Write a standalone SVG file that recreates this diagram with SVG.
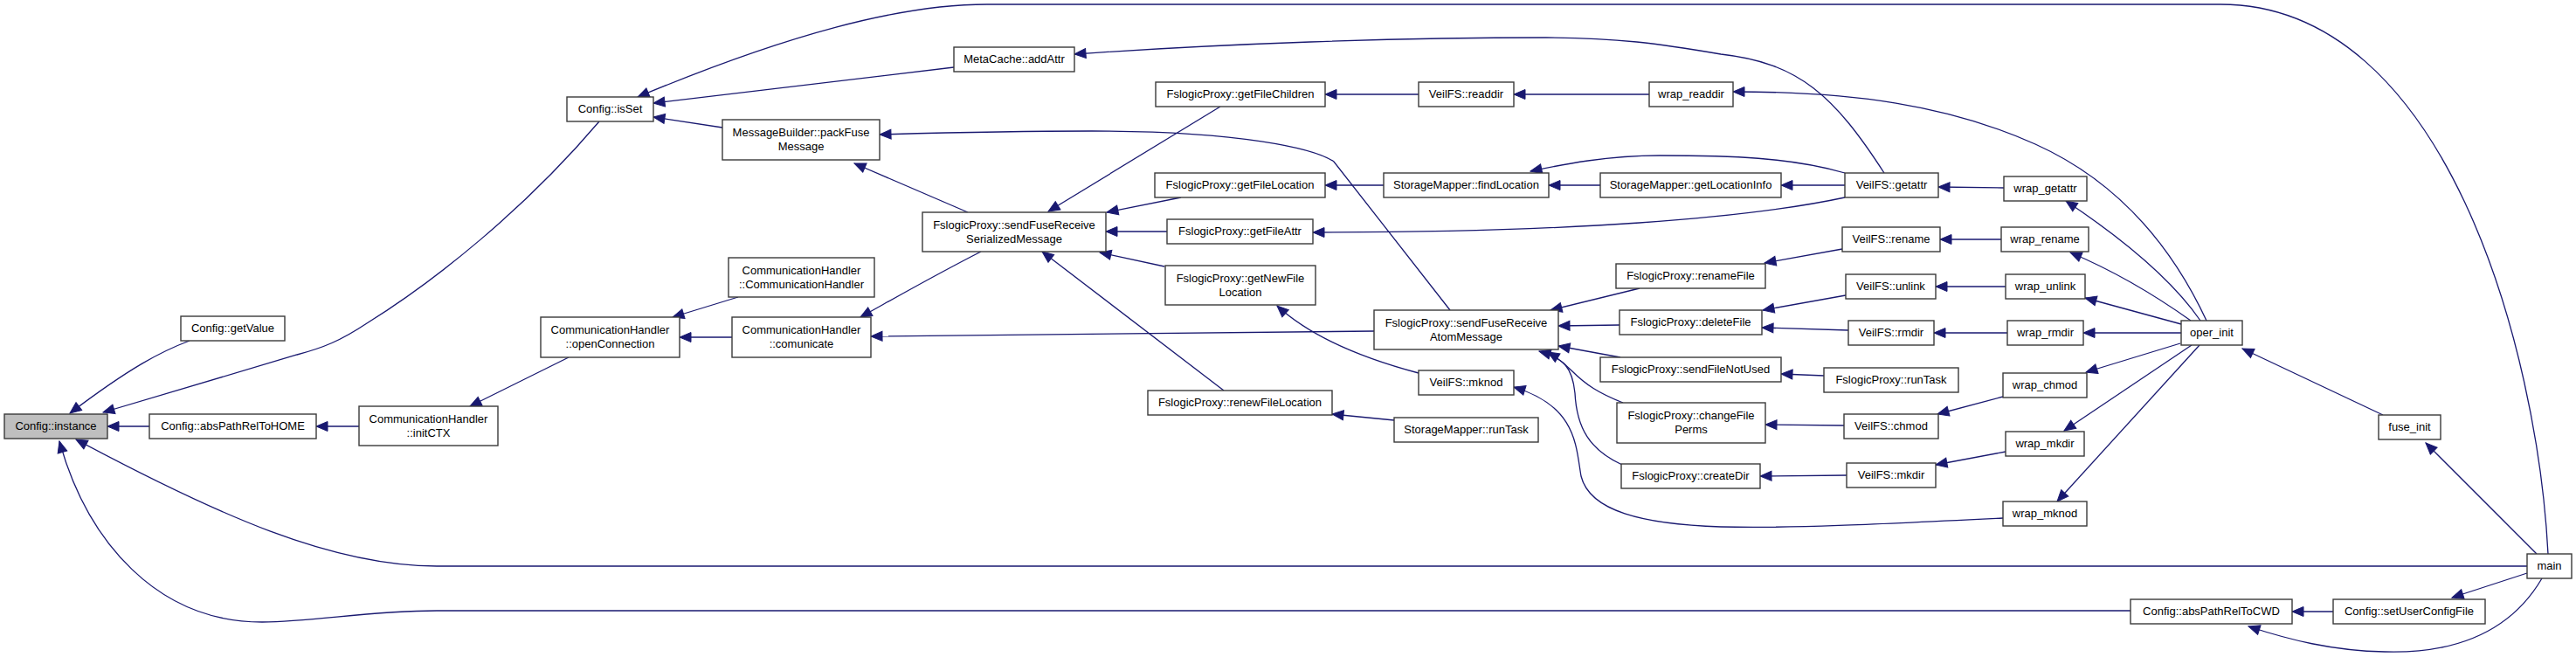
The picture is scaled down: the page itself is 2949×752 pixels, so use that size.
<svg xmlns="http://www.w3.org/2000/svg" width="2949" height="752" viewBox="0 0 2949 752">
<style>
.n rect{fill:#fff;stroke:#3a3a3a;stroke-width:1.4}
.n.root rect{fill:#bfbfbf}
.n text{font-family:"Liberation Sans",Arial,sans-serif;font-size:13px;text-anchor:middle;fill:#000}
#edges path{fill:none;stroke:#191970;stroke-width:1.3;marker-end:url(#ah)}
</style>
<defs>
<marker id="ah" markerUnits="userSpaceOnUse" markerWidth="14" markerHeight="12" refX="13" refY="6" orient="auto" overflow="visible">
<path d="M0,0.5 L13,6 L0,11.5 Z" fill="#191970" stroke="#191970" stroke-width="1"/>
</marker>
</defs>
<rect width="2949" height="752" fill="#fff"/>
<g id="edges">
<path d="M217,390 C185,402 150,420 80,473"/>
<path d="M686,139 C600,240 500,320 420,370 C390,390 370,398 340,406 L118,472"/>
<path d="M171,488 L123,488"/>
<path d="M2893,648 L500,648 C380,648 250,590 87,503"/>
<path d="M2439,699 L500,699 C420,699 360,712 300,712 C180,712 100,620 68,505"/>
<path d="M411,488 L362,488"/>
<path d="M651,409 L538,465"/>
<path d="M838,386 L778,386"/>
<path d="M845,340 L770,363"/>
<path d="M1123,288 C1070,315 1030,338 985,363"/>
<path d="M1573,379 L997,385"/>
<path d="M1092,77 L748,118"/>
<path d="M827,146 L748,134"/>
<path d="M2917,634 C2905,400 2800,5 2542,5 L1130,5 C1030,5 900,40 730,111"/>
<path d="M1660,355 L1527,185 C1505,170 1420,150 1250,150 C1150,150 1080,152 1007,154"/>
<path d="M1108,243 L978,187"/>
<path d="M1397,122 L1200,242"/>
<path d="M1352,226 L1267,243"/>
<path d="M1336,265 L1266,265"/>
<path d="M1333,305 L1259,289"/>
<path d="M1401,447 L1193,288"/>
<path d="M1624,108 L1517,108"/>
<path d="M1888,108 L1733,108"/>
<path d="M2526,367 C2490,290 2430,210 2330,165 C2230,120 2120,105 1984,105"/>
<path d="M1584,212 L1517,212"/>
<path d="M1832,212 L1773,212"/>
<path d="M2112,198 C2050,180 1980,178 1900,178 C1840,178 1790,188 1752,196"/>
<path d="M2112,212 L2039,212"/>
<path d="M2112,226 C2000,250 1800,266 1503,266"/>
<path d="M2294,215 L2219,214"/>
<path d="M2519,367 C2490,325 2440,280 2365,230"/>
<path d="M2109,285 L2020,301"/>
<path d="M2291,274 L2221,274"/>
<path d="M2508,367 C2470,340 2420,310 2370,289"/>
<path d="M2113,338 L2018,355"/>
<path d="M2296,328 L2216,328"/>
<path d="M2497,371 L2387,341"/>
<path d="M2116,378 L2017,375"/>
<path d="M2298,381 L2214,381"/>
<path d="M2497,381 L2385,381"/>
<path d="M2496,393 L2388,426"/>
<path d="M2509,395 L2363,493"/>
<path d="M2518,395 L2355,574"/>
<path d="M2293,454 L2218,474"/>
<path d="M2296,517 L2216,532"/>
<path d="M2111,487 L2021,486"/>
<path d="M2114,544 L2015,545"/>
<path d="M2088,430 L2039,428"/>
<path d="M1877,330 L1775,355"/>
<path d="M1854,372 L1784,373"/>
<path d="M1855,409 L1784,396"/>
<path d="M1858,461 C1830,450 1815,440 1800,425 C1790,415 1782,409 1772,403"/>
<path d="M1857,532 C1820,515 1805,490 1803,450 C1800,420 1790,410 1762,402"/>
<path d="M2293,593 C2150,600 2050,605 1970,603 C1880,600 1820,585 1810,545 C1804,510 1805,465 1733,443"/>
<path d="M1624,427 C1560,410 1500,385 1462,350"/>
<path d="M1596,481 L1525,474"/>
<path d="M2728,475 L2567,399"/>
<path d="M2904,634 L2777,507"/>
<path d="M2893,656 L2807,684"/>
<path d="M2671,700 L2624,700"/>
<path d="M2910,662 C2870,730 2800,748 2730,746 C2670,745 2620,732 2574,717"/>
<path d="M2157,198 C2100,110 2060,72 1970,62 C1900,50 1850,43 1770,43 C1600,43 1400,50 1230,62"/>
</g>
<g id="n1" class="n root"><rect x="5" y="474" width="118" height="28"/><text x="64" y="492">Config::instance</text></g>
<g id="n2" class="n"><rect x="207" y="362" width="119" height="28"/><text x="266.5" y="380">Config::getValue</text></g>
<g id="n3" class="n"><rect x="171" y="474" width="191" height="28"/><text x="266.5" y="492">Config::absPathRelToHOME</text></g>
<g id="n4" class="n"><rect x="411" y="465" width="159" height="45"/><text x="490.5" y="484">CommunicationHandler</text><text x="490.5" y="500">::initCTX</text></g>
<g id="n5" class="n"><rect x="649" y="111" width="99" height="28"/><text x="698.5" y="129">Config::isSet</text></g>
<g id="n6" class="n"><rect x="827" y="137" width="180" height="46"/><text x="917" y="156">MessageBuilder::packFuse</text><text x="917" y="172">Message</text></g>
<g id="n7" class="n"><rect x="834" y="295" width="167" height="45"/><text x="917.5" y="314">CommunicationHandler</text><text x="917.5" y="330">::CommunicationHandler</text></g>
<g id="n8" class="n"><rect x="619" y="363" width="159" height="46"/><text x="698.5" y="382">CommunicationHandler</text><text x="698.5" y="398">::openConnection</text></g>
<g id="n9" class="n"><rect x="838" y="363" width="159" height="46"/><text x="917.5" y="382">CommunicationHandler</text><text x="917.5" y="398">::comunicate</text></g>
<g id="n10" class="n"><rect x="1092" y="54" width="138" height="28"/><text x="1161" y="72">MetaCache::addAttr</text></g>
<g id="n11" class="n"><rect x="1056" y="243" width="210" height="45"/><text x="1161" y="262">FslogicProxy::sendFuseReceive</text><text x="1161" y="278">SerializedMessage</text></g>
<g id="n12" class="n"><rect x="1323" y="94" width="194" height="28"/><text x="1420" y="112">FslogicProxy::getFileChildren</text></g>
<g id="n13" class="n"><rect x="1322" y="198" width="195" height="28"/><text x="1419.5" y="216">FslogicProxy::getFileLocation</text></g>
<g id="n14" class="n"><rect x="1336" y="251" width="167" height="28"/><text x="1419.5" y="269">FslogicProxy::getFileAttr</text></g>
<g id="n15" class="n"><rect x="1334" y="304" width="172" height="45"/><text x="1420" y="323">FslogicProxy::getNewFile</text><text x="1420" y="339">Location</text></g>
<g id="n16" class="n"><rect x="1314" y="447" width="211" height="28"/><text x="1419.5" y="465">FslogicProxy::renewFileLocation</text></g>
<g id="n17" class="n"><rect x="1624" y="94" width="109" height="28"/><text x="1678.5" y="112">VeilFS::readdir</text></g>
<g id="n18" class="n"><rect x="1888" y="94" width="96" height="28"/><text x="1936" y="112">wrap_readdir</text></g>
<g id="n19" class="n"><rect x="1584" y="198" width="189" height="28"/><text x="1678.5" y="216">StorageMapper::findLocation</text></g>
<g id="n20" class="n"><rect x="1832" y="198" width="207" height="28"/><text x="1935.5" y="216">StorageMapper::getLocationInfo</text></g>
<g id="n21" class="n"><rect x="2112" y="198" width="107" height="28"/><text x="2165.5" y="216">VeilFS::getattr</text></g>
<g id="n22" class="n"><rect x="2294" y="202" width="95" height="28"/><text x="2341.5" y="220">wrap_getattr</text></g>
<g id="n23" class="n"><rect x="1573" y="355" width="211" height="45"/><text x="1678.5" y="374">FslogicProxy::sendFuseReceive</text><text x="1678.5" y="390">AtomMessage</text></g>
<g id="n24" class="n"><rect x="1850" y="302" width="171" height="28"/><text x="1935.5" y="320">FslogicProxy::renameFile</text></g>
<g id="n25" class="n"><rect x="1854" y="355" width="163" height="28"/><text x="1935.5" y="373">FslogicProxy::deleteFile</text></g>
<g id="n26" class="n"><rect x="2109" y="260" width="112" height="28"/><text x="2165" y="278">VeilFS::rename</text></g>
<g id="n27" class="n"><rect x="2291" y="260" width="100" height="28"/><text x="2341" y="278">wrap_rename</text></g>
<g id="n28" class="n"><rect x="2113" y="314" width="103" height="28"/><text x="2164.5" y="332">VeilFS::unlink</text></g>
<g id="n29" class="n"><rect x="2296" y="314" width="91" height="28"/><text x="2341.5" y="332">wrap_unlink</text></g>
<g id="n30" class="n"><rect x="2116" y="367" width="98" height="28"/><text x="2165" y="385">VeilFS::rmdir</text></g>
<g id="n31" class="n"><rect x="2298" y="367" width="87" height="28"/><text x="2341.5" y="385">wrap_rmdir</text></g>
<g id="n32" class="n"><rect x="1832" y="409" width="207" height="28"/><text x="1935.5" y="427">FslogicProxy::sendFileNotUsed</text></g>
<g id="n33" class="n"><rect x="2088" y="421" width="154" height="28"/><text x="2165" y="439">FslogicProxy::runTask</text></g>
<g id="n34" class="n"><rect x="1851" y="461" width="170" height="46"/><text x="1936" y="480">FslogicProxy::changeFile</text><text x="1936" y="496">Perms</text></g>
<g id="n35" class="n"><rect x="2111" y="474" width="108" height="28"/><text x="2165" y="492">VeilFS::chmod</text></g>
<g id="n36" class="n"><rect x="2293" y="427" width="96" height="28"/><text x="2341" y="445">wrap_chmod</text></g>
<g id="n37" class="n"><rect x="1856" y="531" width="159" height="28"/><text x="1935.5" y="549">FslogicProxy::createDir</text></g>
<g id="n38" class="n"><rect x="2114" y="530" width="102" height="28"/><text x="2165" y="548">VeilFS::mkdir</text></g>
<g id="n39" class="n"><rect x="2296" y="494" width="90" height="28"/><text x="2341" y="512">wrap_mkdir</text></g>
<g id="n40" class="n"><rect x="2293" y="574" width="96" height="28"/><text x="2341" y="592">wrap_mknod</text></g>
<g id="n41" class="n"><rect x="1624" y="424" width="109" height="28"/><text x="1678.5" y="442">VeilFS::mknod</text></g>
<g id="n42" class="n"><rect x="1596" y="478" width="165" height="28"/><text x="1678.5" y="496">StorageMapper::runTask</text></g>
<g id="n43" class="n"><rect x="2497" y="367" width="70" height="28"/><text x="2532" y="385">oper_init</text></g>
<g id="n44" class="n"><rect x="2723" y="475" width="71" height="28"/><text x="2758.5" y="493">fuse_init</text></g>
<g id="n45" class="n"><rect x="2893" y="634" width="51" height="28"/><text x="2918.5" y="652">main</text></g>
<g id="n46" class="n"><rect x="2439" y="686" width="185" height="28"/><text x="2531.5" y="704">Config::absPathRelToCWD</text></g>
<g id="n47" class="n"><rect x="2671" y="686" width="174" height="28"/><text x="2758" y="704">Config::setUserConfigFile</text></g>
</svg>
